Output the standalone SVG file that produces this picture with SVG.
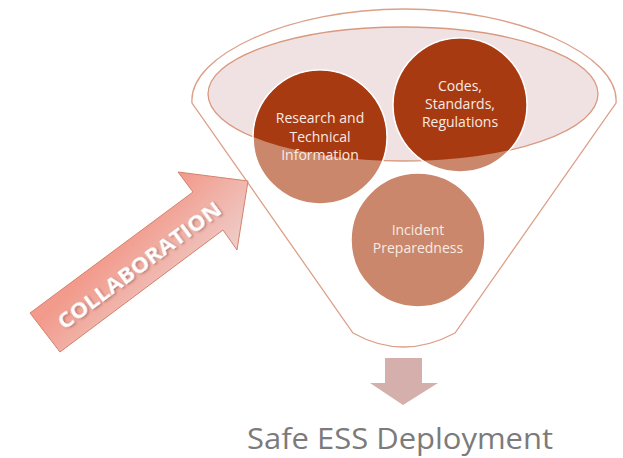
<svg xmlns="http://www.w3.org/2000/svg" width="623" height="458" viewBox="0 0 623 458">
<style>
.outline{fill:none;stroke:#dc9f87;stroke-width:1.3}
.light{fill:#ca876b;stroke:#ffffff;stroke-width:1.5}
.dark{fill:#a83a12}
.ctext{font-family:"Open Sans","Liberation Sans",sans-serif;font-size:14px;fill:#f7ebe4;text-anchor:middle}
</style>
<defs>
<clipPath id="topClip"><ellipse cx="403" cy="94" rx="195" ry="67"/></clipPath>
<linearGradient id="collabGrad" gradientUnits="userSpaceOnUse" x1="170" y1="185" x2="250" y2="262">
<stop offset="0" stop-color="#f29a8b"/>
<stop offset="1" stop-color="#eed8d6"/>
</linearGradient>
<filter id="shadow" x="-10%" y="-30%" width="120%" height="160%">
<feDropShadow dx="1" dy="1.5" stdDeviation="1" flood-color="#7a3a30" flood-opacity="0.5"/>
</filter>
</defs>

<g id="funnel">
<path class="outline" d="M192,103 C188,55 290,9 404,9 C518,9 620,55 616,103 L455,333 Q403,361 353,333 Z"/>
<ellipse cx="403" cy="94" rx="195" ry="67" fill="#f0e2e2" stroke="#d9997f" stroke-width="1.3"/>
</g>

<g id="node-research">
<circle class="light" cx="320" cy="137" r="67"/>
<circle class="dark" cx="320" cy="137" r="66.2" clip-path="url(#topClip)"/>
<text class="ctext" x="320" y="123">Research and</text>
<text class="ctext" x="320" y="142">Technical</text>
<text class="ctext" x="320" y="160">Information</text>
</g>

<g id="node-codes">
<circle class="light" cx="460" cy="105" r="67"/>
<circle class="dark" cx="460" cy="105" r="66.2" clip-path="url(#topClip)"/>
<text class="ctext" x="460" y="91">Codes,</text>
<text class="ctext" x="460" y="109">Standards,</text>
<text class="ctext" x="460" y="127">Regulations</text>
</g>

<g id="node-incident">
<circle class="light" cx="418" cy="240" r="67"/>
<text class="ctext" x="418" y="235">Incident</text>
<text class="ctext" x="418" y="253">Preparedness</text>
</g>

<g id="connectors">
<g id="collaboration-arrow">
<polygon points="30,313 193,192 178,172 248,181 237,250 223,230 60,352" fill="url(#collabGrad)" stroke="#d4826c" stroke-width="1"/>
<text transform="translate(139,265) rotate(-36.6)" y="7.5" text-anchor="middle" font-family="'Open Sans','Liberation Sans',sans-serif" font-weight="bold" font-size="21" fill="#ffffff" textLength="198" lengthAdjust="spacingAndGlyphs" filter="url(#shadow)">COLLABORATION</text>
</g>
<polygon id="down-arrow" points="385,358 422,358 422,383 438,383 403,405 370,383 385,383" fill="#d5afab"/>
</g>

<g id="node-result">
<text x="400" y="449" text-anchor="middle" font-family="'Open Sans','Liberation Sans',sans-serif" font-size="30" fill="#7b7b7b" textLength="306" lengthAdjust="spacingAndGlyphs">Safe ESS Deployment</text>
</g>
</svg>
